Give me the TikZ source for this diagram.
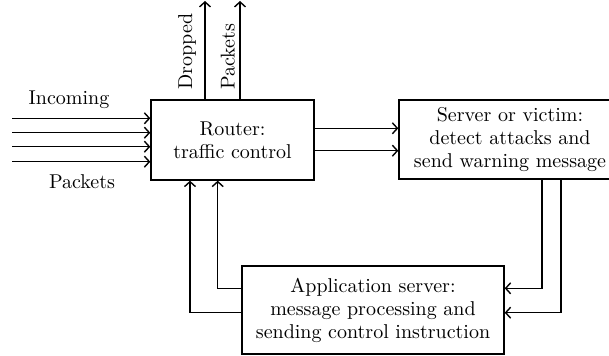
\documentclass[tikz,border=0pt]{standalone}
\usetikzlibrary{arrows.meta}
\begin{document}
\begin{tikzpicture}[x=0.5pt,y=-0.5pt,
  txt/.style={font=\fontsize{10}{11.5}\selectfont},
  box/.style={draw,line width=0.7pt,inner sep=0pt,align=center,txt},
  arr/.style={line width=0.7pt,-{Straight Barb[length=2.5pt,width=5.5pt]}},
  lbl/.style={inner sep=0pt,txt}]
\useasboundingbox (0,0) rectangle (609,356);
\clip (0,0) rectangle (609,356);
% boxes
\node[box,minimum width=81.5pt,minimum height=40pt] (router) at (232.5,140) {Router:\\traffic control};
\node[box,minimum width=111pt,minimum height=39.5pt] (server) at (510,139.5) {Server or victim:\\detect attacks and\\send warning message};
\node[box,minimum width=131pt,minimum height=44pt] (app) at (373,310) {Application server:\\message processing and\\sending control instruction};
% helper coordinates
\coordinate (i1) at (12,118.3);
\coordinate (i2) at (12,132.7);
\coordinate (i3) at (12,146.7);
\coordinate (i4) at (12,161.7);
\coordinate (o1) at (205,1);
\coordinate (o2) at (240,1);
\coordinate (h1) at (0,128.3);
\coordinate (h2) at (0,150.7);
\coordinate (v1) at (542,0);
\coordinate (v2) at (561,0);
\coordinate (a1) at (0,288.3);
\coordinate (a2) at (0,312.7);
\coordinate (u1) at (217.7,0);
\coordinate (u2) at (190,0);
% incoming
\foreach \c in {i1,i2,i3,i4}{\draw[arr] (\c) -- (router.west |- \c);}
\node[lbl] (inc) at (69,100) {Incoming};
\node[lbl] (pk) at (82,182) {Packets};
% dropped
\draw[arr] (router.north -| o1) -- (o1);
\draw[arr] (router.north -| o2) -- (o2);
\node[lbl,rotate=90,anchor=base west] (drop) at (192,90) {Dropped};
\node[lbl,rotate=90,anchor=base west] (pk2) at (234.5,90) {Packets};
% router -> server
\draw[arr] (router.east |- h1) -- (server.west |- h1);
\draw[arr] (router.east |- h2) -- (server.west |- h2);
% server -> app
\draw[arr] (server.south -| v1) |- (app.east |- a1);
\draw[arr] (server.south -| v2) |- (app.east |- a2);
% app -> router
\draw[arr] (app.west |- a1) -| (router.south -| u1);
\draw[arr] (app.west |- a2) -| (router.south -| u2);
\end{tikzpicture}
\end{document}
